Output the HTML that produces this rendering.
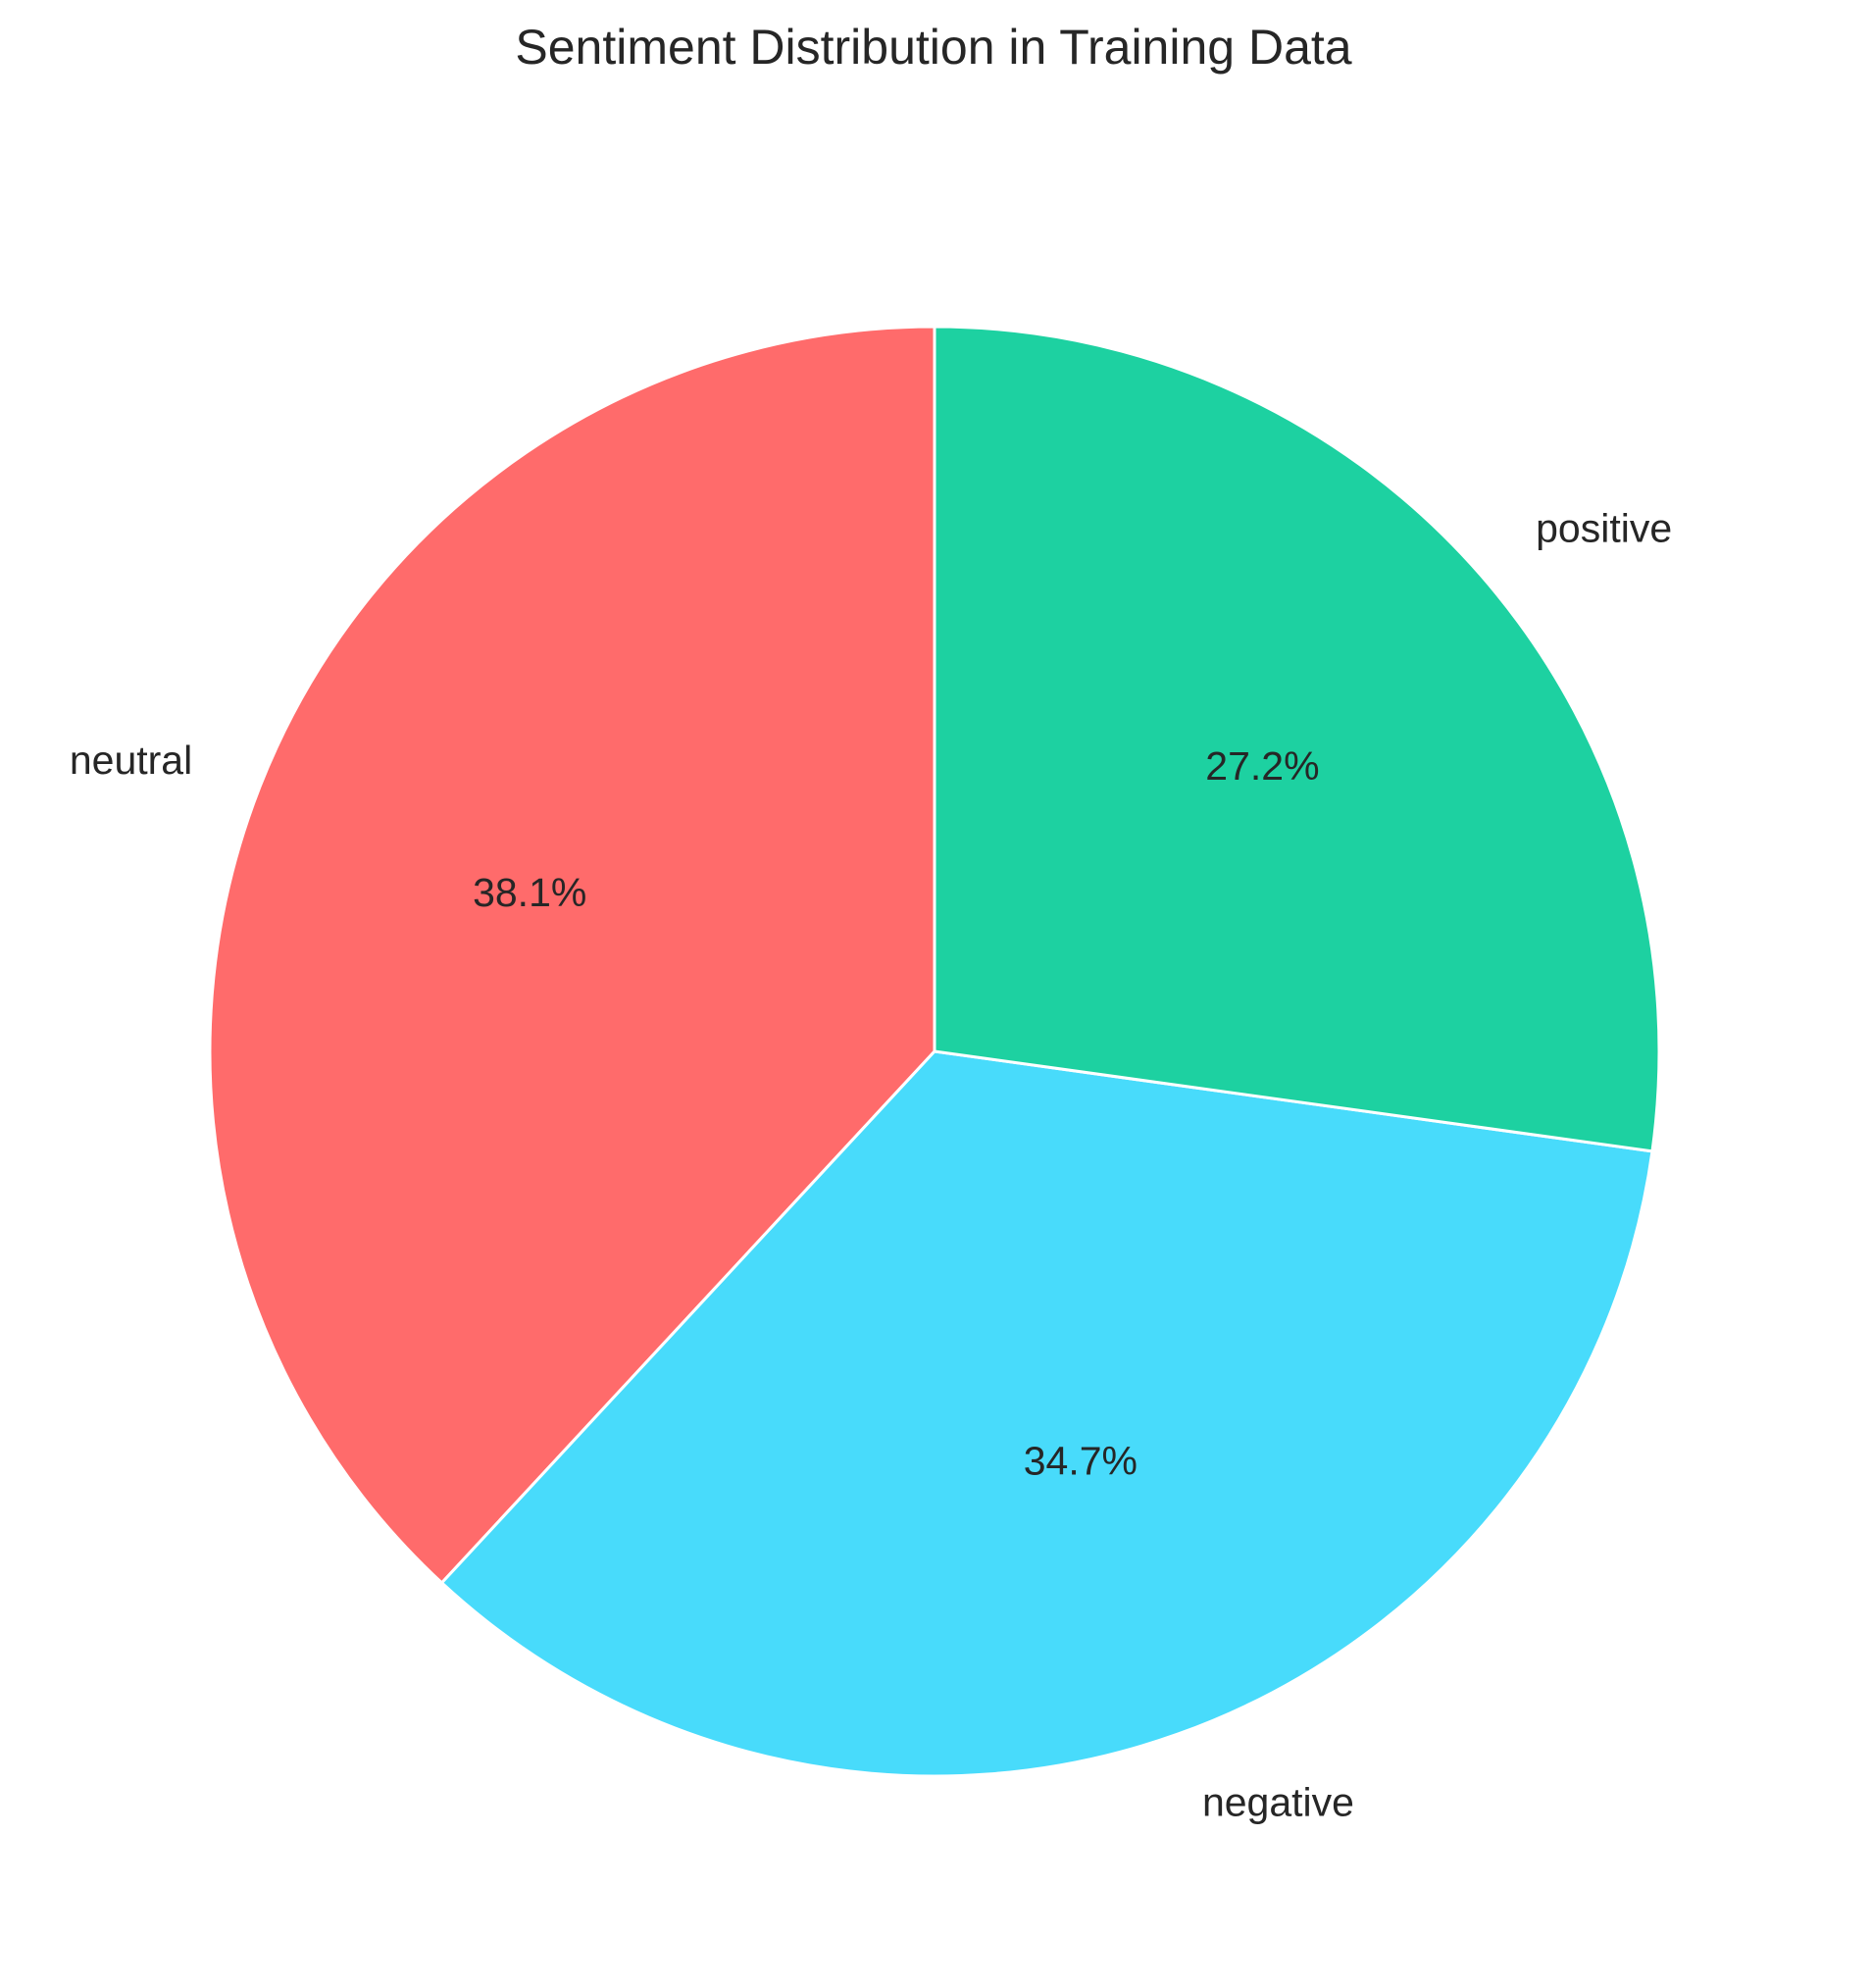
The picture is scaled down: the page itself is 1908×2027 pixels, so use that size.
<!DOCTYPE html>
<html><head><meta charset="utf-8"><style>
html,body{margin:0;padding:0;background:#fff;}
svg{display:block;font-family:"Liberation Sans",Arial,sans-serif;}
</style></head><body>
<svg id="chart" width="1908" height="2027" viewBox="0 0 1908 2027">
<text x="952" y="65" text-anchor="middle" font-size="50" fill="#262626">Sentiment Distribution in Training Data</text>
<g id="slices"></g>
<g id="labels"></g>
</svg>
<script>
const categories = ["neutral", "negative", "positive"];
const values = [38.1, 34.7, 27.2];
const pctLabels = ["38.1%", "34.7%", "27.2%"];
const colors = ["#FF6B6B", "#48DBFB", "#1DD1A1"];

const cx = 953, cy = 1072, r = 739;
const NS = "http://www.w3.org/2000/svg";
const total = values.reduce((a, b) => a + b, 0);
const slices = document.getElementById("slices");
const labels = document.getElementById("labels");
function pt(deg, rad) {
  const a = deg * Math.PI / 180;
  return [cx + rad * Math.cos(a), cy - rad * Math.sin(a)];
}
let start = 90;
values.forEach((v, i) => {
  const sweep = v / total * 360;
  const end = start + sweep;
  const [x1, y1] = pt(start, r);
  const [x2, y2] = pt(end, r);
  const large = sweep > 180 ? 1 : 0;
  const p = document.createElementNS(NS, "path");
  p.setAttribute("d", `M${cx},${cy} L${x1},${y1} A${r},${r} 0 ${large} 0 ${x2},${y2} Z`);
  p.setAttribute("fill", colors[i]);
  p.setAttribute("stroke", "#fff");
  p.setAttribute("stroke-width", "3");
  p.setAttribute("stroke-linejoin", "round");
  
  
  slices.appendChild(p);

  const mid = start + sweep / 2;
  const [lx, ly] = pt(mid, r * 1.1);
  const t = document.createElementNS(NS, "text");
  t.setAttribute("x", lx);
  t.setAttribute("y", ly + 14);
  t.setAttribute("font-size", "41");
  t.setAttribute("fill", "#262626");
  t.setAttribute("text-anchor", Math.cos(mid * Math.PI / 180) < 0 ? "end" : "start");
  t.textContent = categories[i];
  
  
  labels.appendChild(t);

  const [px, py] = pt(mid, r * 0.6);
  const t2 = document.createElementNS(NS, "text");
  t2.setAttribute("x", px);
  t2.setAttribute("y", py + 14);
  t2.setAttribute("font-size", "41");
  t2.setAttribute("fill", "#262626");
  t2.setAttribute("text-anchor", "middle");
  t2.textContent = pctLabels[i];
  
  
  labels.appendChild(t2);

  start = end;
});
</script>
</body></html>
